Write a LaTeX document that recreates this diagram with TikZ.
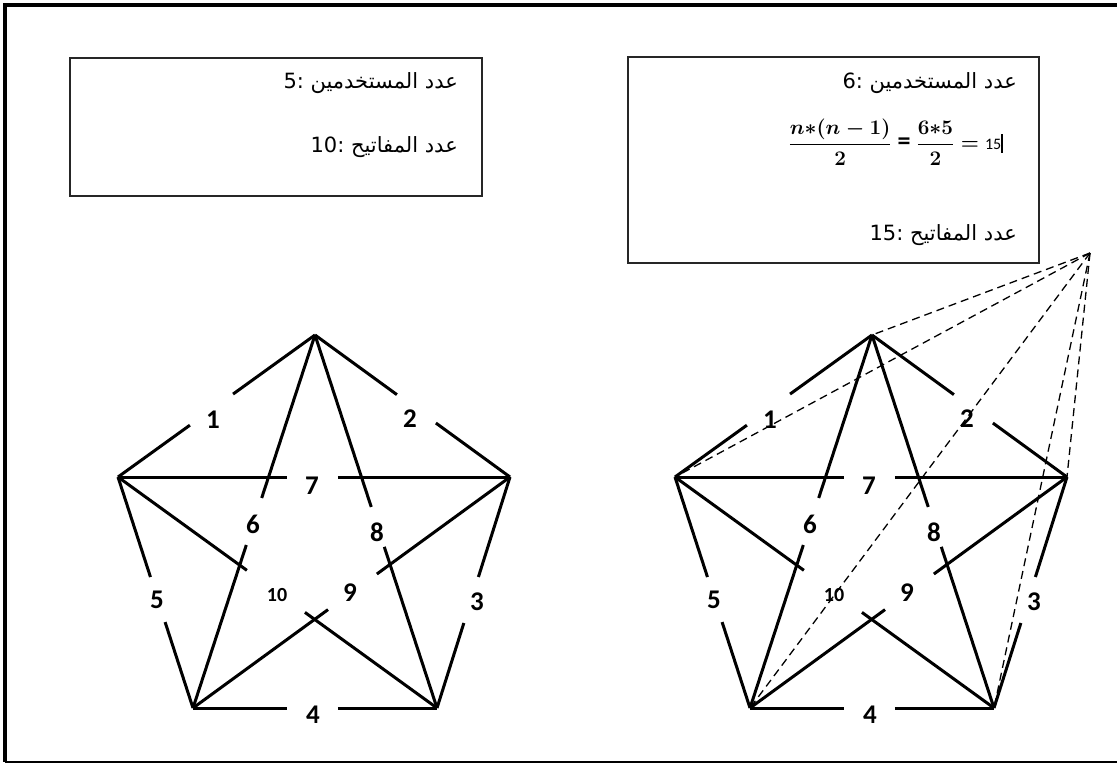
\documentclass[tikz,border=0pt]{standalone}
\usepackage{fontspec}
\usepackage{amsmath}
\TeXXeTstate=1
\newfontfamily\arabicfont[Script=Arabic]{DejaVu Sans}
\newfontfamily\labfont{Carlito}
\usetikzlibrary{calc}
\tikzset{
  edge/.style={line width=3pt, line cap=butt},
  lab/.style={font=\labfont\bfseries\fontsize{27}{27}\selectfont, inner sep=0pt},
  smalllab/.style={font=\labfont\bfseries\fontsize{20}{20}\selectfont, inner sep=0pt},
  boxframe/.style={draw=black!85, line width=1.5pt},
  artext/.style={font=\arabicfont\fontsize{21}{21}\selectfont, anchor=east, inner sep=0pt},
  dashline/.style={dash pattern=on 8pt off 5pt, line width=1.3pt},
}
\newcommand\gapedge[4]{%
  \draw[edge] (#1) -- ($(#1)!#3!(#2)$);
  \draw[edge] ($(#1)!#4!(#2)$) -- (#2);}
\newcommand\pentagram[2]{%
  \begin{scope}[xshift=#2]
    \coordinate (#1T) at (315,335);
    \coordinate (#1L) at (118,477);
    \coordinate (#1R) at (510,477);
    \coordinate (#1A) at (193,708);
    \coordinate (#1B) at (437,708);
    \gapedge{#1T}{#1L}{0.416}{0.635}
    \gapedge{#1T}{#1R}{0.42}{0.62}
    \gapedge{#1L}{#1R}{0.431}{0.561}
    \gapedge{#1T}{#1A}{0.437}{0.563}
    \gapedge{#1T}{#1B}{0.461}{0.568}
    \gapedge{#1L}{#1B}{0.404}{0.586}
    \gapedge{#1R}{#1A}{0.42}{0.574}
    \gapedge{#1L}{#1A}{0.433}{0.628}
    \gapedge{#1R}{#1B}{0.433}{0.632}
    \gapedge{#1A}{#1B}{0.385}{0.594}
    \node[lab] (#1n1) at (213,420) {1};
    \node[lab] (#1n2) at (410,419) {2};
    \node[lab] (#1n7) at (312,486) {7};
    \node[lab] (#1n6) at (253,524) {6};
    \node[lab] (#1n8) at (377,532) {8};
    \node[smalllab] (#1n10) at (277,595) {10};
    \node[lab] (#1n9) at (350,593) {9};
    \node[lab] (#1n5) at (157,600) {5};
    \node[lab] (#1n3) at (477,602) {3};
    \node[lab] (#1n4) at (313,715) {4};
  \end{scope}}
\begin{document}
\begin{tikzpicture}[x=1pt,y=-1pt]
\useasboundingbox (0,0) rectangle (1117,764);
% outer frame
\draw[line width=3.5pt] (1125,5) -- (5,5) -- (5,762);
\draw[line width=2pt] (5,762) -- (1125,762);
% boxes
\draw[boxframe] (70,58) rectangle (482,196);
\draw[boxframe] (628,57) rectangle (1039,263);
\node[artext] (l1) at (458,83) {\beginR عدد المستخدمين :\beginL 5\endL\endR};
\node[artext] (l2) at (458,147) {\beginR عدد المفاتيح :\beginL 10\endL\endR};
\node[artext] (r1) at (1017,83) {\beginR عدد المستخدمين :\beginL 6\endL\endR};
\node[artext] (r3) at (1017,235) {\beginR عدد المفاتيح :\beginL 15\endL\endR};
\node[anchor=east, inner sep=0pt, font=\fontsize{20}{20}\selectfont\boldmath] (formula) at (1003,142)
  {$\dfrac{n{\ast}(n-1)}{2}$ {\labfont\bfseries\fontsize{26}{26}\selectfont =} $\dfrac{6{\ast}5}{2} =$ {\labfont\fontsize{16}{16}\selectfont 15}\rule[-3pt]{1.5pt}{19pt}};
% pentagrams
\pentagram{p}{0pt}
\pentagram{q}{557pt}
% dashed lines
\coordinate (apex) at (1090,253);
\foreach \v in {T,L,R,A,B}{
  \draw[dashline] (apex) -- (q\v);
}
\end{tikzpicture}
\end{document}
